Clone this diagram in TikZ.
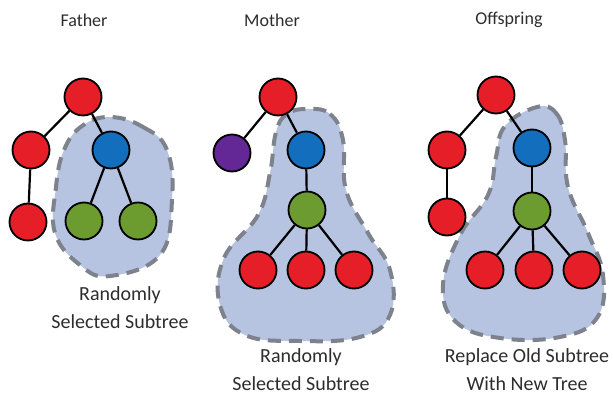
\documentclass[tikz,border=0pt]{standalone}
\usepackage{fontspec}
\setmainfont{Carlito}
\definecolor{nred}{RGB}{230,30,40}
\definecolor{nblue}{RGB}{20,110,190}
\definecolor{ngreen}{RGB}{108,155,48}
\definecolor{npurple}{RGB}{100,40,150}
\definecolor{blobfill}{RGB}{182,196,226}
\definecolor{blobline}{RGB}{125,130,140}
\definecolor{txt}{RGB}{45,45,45}
\tikzset{
  tn/.style={circle, draw=black, line width=1.8pt, minimum size=37pt, inner sep=0pt},
  rn/.style={tn, fill=nred},
  bn/.style={tn, fill=nblue},
  gn/.style={tn, fill=ngreen},
  pn/.style={tn, fill=npurple},
  blob/.style={fill=blobfill, draw=blobline, line width=4pt, dash pattern=on 13pt off 8pt},
  edge/.style={draw=black, line width=2.2pt},
  ttl/.style={font=\fontsize{18}{22}\selectfont, text=txt},
  lbl/.style={font=\fontsize{20}{28}\selectfont, text=txt, align=center},
}
\begin{document}
\begin{tikzpicture}[x=1pt, y=-1pt]
\useasboundingbox (0,0) rectangle (613,396);
\fill[white] (0,0) rectangle (613,396);
% blobs
\path[blob] plot[smooth cycle, tension=0.7] coordinates {(110,117) (143,127) (167,150) (172,200) (160,255) (110,276) (80,265) (55,233) (56,187) (64,150) (82,126)};
\path[blob] plot[smooth cycle, tension=0.7] coordinates {(307,109) (330,114) (343,140) (346,190) (368,233) (390,270) (390,315) (360,337) (300,341) (245,335) (220,305) (224,258) (258,215) (270,173) (276,132) (287,114)};
\path[blob] plot[smooth cycle, tension=0.7] coordinates {(537,107) (556,113) (565,140) (568,187) (588,233) (603,275) (597,318) (560,337) (500,338) (456,322) (443,285) (460,235) (488,195) (496,157) (505,126)};
% titles
\node[ttl] (t1) at (84,20) {Father};
\node[ttl] (t2) at (272,20) {Mother};
\node[ttl] (t3) at (509,20) {Offspring};
% father tree
\node[rn] (fr) at (83,97) {};
\node[rn] (fl) at (31,150) {};
\node[rn] (fll) at (28,222) {};
\node[bn] (fb) at (111,150) {};
\node[gn] (fg1) at (84,221) {};
\node[gn] (fg2) at (138,221) {};
\draw[edge] (fr) -- (fl);
\draw[edge] (fl) -- (fll);
\draw[edge] (fr) -- (fb);
\draw[edge] (fb) -- (fg1);
\draw[edge] (fb) -- (fg2);
% mother tree
\node[rn] (mr) at (278,97) {};
\node[pn] (mp) at (232,153) {};
\node[bn] (mb) at (306,150) {};
\node[gn] (mg) at (307,210) {};
\node[rn] (mc1) at (258,270) {};
\node[rn] (mc2) at (306,270) {};
\node[rn] (mc3) at (354,270) {};
\draw[edge] (mr) -- (mp);
\draw[edge] (mr) -- (mb);
\draw[edge] (mb) -- (mg);
\draw[edge] (mg) -- (mc1);
\draw[edge] (mg) -- (mc2);
\draw[edge] (mg) -- (mc3);
% offspring tree
\node[rn] (or) at (496,95) {};
\node[rn] (ol) at (447,150) {};
\node[rn] (oll) at (447,217) {};
\node[bn] (ob) at (532,148) {};
\node[gn] (og) at (532,211) {};
\node[rn] (oc1) at (485,270) {};
\node[rn] (oc2) at (534,270) {};
\node[rn] (oc3) at (582,270) {};
\draw[edge] (or) -- (ol);
\draw[edge] (ol) -- (oll);
\draw[edge] (or) -- (ob);
\draw[edge] (ob) -- (og);
\draw[edge] (og) -- (oc1);
\draw[edge] (og) -- (oc2);
\draw[edge] (og) -- (oc3);
% labels
\node[lbl] (l1) at (120,308) {Randomly\\Selected Subtree};
\node[lbl] (l2) at (301,370) {Randomly\\Selected Subtree};
\node[lbl] (l3) at (527,370) {Replace Old Subtree\\With New Tree};
\end{tikzpicture}
\end{document}
